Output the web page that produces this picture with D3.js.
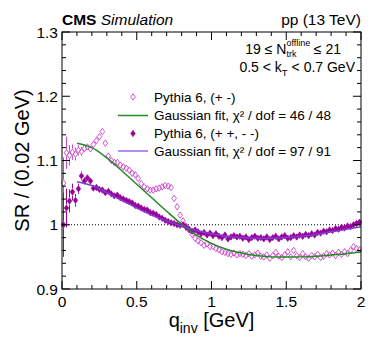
<!DOCTYPE html>
<html><head><meta charset="utf-8">
<script src="https://cdn.jsdelivr.net/npm/d3@7"></script>
<style>body{margin:0;background:#fff}svg{display:block;font-family:"Liberation Sans",Arial,Helvetica,sans-serif}</style>
</head><body><svg id="c" width="374" height="357"></svg>
<script>
// ---- data ----
const binStart = 0, binWidth = 0.02;
const openVals = [1.065,1.112,1.108,1.113,1.110,1.116,1.114,1.119,1.121,1.118,
1.125,1.131,1.137,1.145,1.127,1.107,1.100,1.097,1.097,1.093,
1.090,1.088,1.085,1.080,1.078,1.072,1.064,1.059,1.056,1.054,
1.054,1.056,1.057,1.059,1.061,1.060,1.058,1.041,1.028,1.015,
1.006,0.998,0.992,0.985,0.979,0.975,0.972,0.968,0.970,0.966,
0.966,0.963,0.961,0.958,0.957,0.955,0.954,0.956,0.953,0.955,
0.954,0.952,0.955,0.951,0.953,0.956,0.951,0.950,0.953,0.948,
0.952,0.957,0.951,0.949,0.953,0.958,0.950,0.960,0.952,0.949,
0.955,0.950,0.948,0.952,0.950,0.954,0.949,0.951,0.955,0.953,
0.956,0.952,0.957,0.954,0.958,0.955,0.960,0.966,0.963,0.961];
const openErr = [0.040,0.025,0.016,0.012,0.010,0.008,0.007,0.006,0.005,0.005,
0.004,0.004,0.004,0.004,0.003,0.003,0.003,0.003,0.003,0.003];
const fillVals = [1.000,1.026,1.037,1.051,1.038,1.056,1.076,1.068,1.073,1.068,
1.057,1.058,1.055,1.054,1.050,1.052,1.048,1.045,1.046,1.042,
1.040,1.038,1.036,1.034,1.030,1.029,1.026,1.024,1.023,1.019,
1.018,1.016,1.012,1.010,1.007,1.005,1.003,1.002,1.000,0.999,
1.000,0.996,0.993,0.990,0.992,0.989,0.986,0.988,0.984,0.987,
0.983,0.986,0.982,0.980,0.984,0.978,0.981,0.983,0.981,0.982,
0.979,0.981,0.977,0.980,0.982,0.979,0.980,0.978,0.981,0.977,
0.980,0.982,0.978,0.981,0.983,0.979,0.980,0.983,0.981,0.984,
0.982,0.985,0.983,0.986,0.984,0.988,0.987,0.990,0.989,0.992,
0.991,0.994,0.993,0.996,0.995,0.998,0.997,1.000,1.002,1.004];
const fillErr = [0.050,0.030,0.018,0.013,0.010,0.008,0.007,0.006,0.005,0.005,
0.004,0.004,0.004,0.004,0.004,0.003,0.003,0.003,0.003,0.003];
const fitQ = [0.1,0.2,0.3,0.4,0.5,0.6,0.7,0.8,0.9,1.0,1.1,1.2,1.3,1.4,1.5,1.6,1.7,1.8,1.9,2.0];
const greenFit = [1.127,1.120,1.104,1.084,1.063,1.042,1.021,1.001,0.984,0.971,0.962,0.956,0.952,0.950,0.950,0.950,0.951,0.953,0.955,0.958];
const purpleFit = [1.067,1.061,1.050,1.038,1.026,1.015,1.006,0.998,0.991,0.986,0.982,0.980,0.979,0.979,0.980,0.982,0.985,0.989,0.993,0.997];
const xMajor = [0,0.5,1,1.5,2];
const xTickLabels = ["0","0.5","1","1.5","2"];
const yMajor = [0.9,1.0,1.1,1.2,1.3];
const yTickLabels = ["0.9","1","1.1","1.2","1.3"];
const legendLabels = ["Pythia 6, (+ -)", "Gaussian fit, \u03c7\u00b2 / dof = 46 / 48", "Pythia 6, (+ +, - -)", "Gaussian fit, \u03c7\u00b2 / dof = 97 / 91"];

// ---- styles ----
const cOpen = "#cc44cc", cFill = "#990099", cGreen = "#228b22", cPurple = "#7b3fd6";

const svg = d3.select("#c");
const L = 62, R = 361, T = 32, B = 289;
const x = d3.scaleLinear([0,2],[L,R]);
const y = d3.scaleLinear([0.9,1.3],[B,T]);

const g = svg.append("g");
g.append("line").attr("x1",L).attr("x2",R).attr("y1",y(1)).attr("y2",y(1))
 .attr("stroke","#000").attr("stroke-width",1).attr("stroke-dasharray","1,2");

const centers = openVals.map((v,i)=>binStart + binWidth*(i+0.5));

function diamond(sel, cx, cy, fill, stroke){
  const w=2.3, h=3.2;
  sel.append("path").attr("d",`M${cx},${cy-h}L${cx+w},${cy}L${cx},${cy+h}L${cx-w},${cy}Z`)
   .attr("fill",fill).attr("stroke",stroke).attr("stroke-width",fill==="none"?0.9:0.6);
}
function drawSeries(vals, errs, color, filled){
  const gs = g.append("g");
  vals.forEach((v,i)=>{
    const q = centers[i];
    const e = i<errs.length ? errs[i] : 0.0025;
    const cx = x(q), cy = y(v);
    if (y(v-e)-y(v+e) > 7) {
      gs.append("line").attr("x1",cx).attr("x2",cx).attr("y1",y(v+e)).attr("y2",cy-3.5).attr("stroke",color).attr("stroke-width",1);
      gs.append("line").attr("x1",cx).attr("x2",cx).attr("y1",cy+3.5).attr("y2",y(v-e)).attr("stroke",color).attr("stroke-width",1);
    }
    diamond(gs, cx, cy, filled?color:"none", color);
  });
}
drawSeries(openVals, openErr, cOpen, false);
drawSeries(fillVals, fillErr, cFill, true);

const line = d3.line().x((d,i)=>x(fitQ[i])).y(d=>y(d)).curve(d3.curveCatmullRom);
g.append("path").datum(greenFit).attr("d",line).attr("fill","none").attr("stroke",cGreen).attr("stroke-width",1.5);
g.append("path").datum(purpleFit).attr("d",line).attr("fill","none").attr("stroke",cPurple).attr("stroke-width",1.5);

// frame & ticks
const ax = svg.append("g").attr("stroke","#000").attr("stroke-width",1);
ax.append("rect").attr("x",L).attr("y",T).attr("width",R-L).attr("height",B-T).attr("fill","none");
d3.range(0,2.0001,0.1).forEach(q=>{
  const major = xMajor.some(m=>Math.abs(m-q)<1e-6);
  const len = major?8:4;
  ax.append("line").attr("x1",x(q)).attr("x2",x(q)).attr("y1",B).attr("y2",B-len);
  ax.append("line").attr("x1",x(q)).attr("x2",x(q)).attr("y1",T).attr("y2",T+len);
});
d3.range(0.9,1.30001,0.02).forEach(v=>{
  const major = yMajor.some(m=>Math.abs(m-v)<1e-6);
  const len = major?8:4;
  ax.append("line").attr("y1",y(v)).attr("y2",y(v)).attr("x1",L).attr("x2",L+len);
  ax.append("line").attr("y1",y(v)).attr("y2",y(v)).attr("x1",R).attr("x2",R-len);
});
const tl = svg.append("g").attr("font-size",15.5).attr("fill","#000");
xMajor.forEach((q,i)=>tl.append("text").attr("x",x(q)).attr("y",307).attr("text-anchor","middle").text(xTickLabels[i]));
yMajor.forEach((v,i)=>tl.append("text").attr("x",58).attr("y",y(v)+5.5).attr("text-anchor","end").text(yTickLabels[i]));

// axis titles
svg.append("text").attr("transform",`translate(29,${(T+B)/2}) rotate(-90)`).attr("text-anchor","middle").attr("font-size",20).text("SR / (0.02 GeV)");
const xt = svg.append("text").attr("x",(L+R)/2).attr("y",327).attr("text-anchor","middle").attr("font-size",20);
xt.append("tspan").text("q");
xt.append("tspan").attr("font-size",14).attr("dy",6).text("inv");
xt.append("tspan").attr("dy",-6).text(" [GeV]");

// header
const h = svg.append("text").attr("x",L).attr("y",25).attr("font-size",15.5);
h.append("tspan").attr("font-weight","bold").text("CMS");
h.append("tspan").attr("font-style","italic").text(" Simulation");
svg.append("text").attr("x",R).attr("y",25).attr("text-anchor","end").attr("font-size",15.5).text("pp (13 TeV)");

// annotations (N_trk^offline built from separate pieces, right-aligned)
const a1end = svg.append("text").attr("x",341).attr("y",54).attr("text-anchor","end").attr("font-size",14).text("\u2264 21");
const endW = a1end.node().getComputedTextLength();
const supX = 341 - endW - 3.5;
const sup = svg.append("text").attr("x",supX).attr("y",46).attr("text-anchor","end").attr("font-size",9).text("offline");
const supW = sup.node().getComputedTextLength();
const scriptStart = supX - supW;
svg.append("text").attr("x",scriptStart).attr("y",56.5).attr("font-size",9).text("trk");
svg.append("text").attr("x",scriptStart).attr("y",54).attr("text-anchor","end").attr("font-size",14).text("19 \u2264 N");
const a2 = svg.append("text").attr("x",355).attr("y",72).attr("text-anchor","end").attr("font-size",14);
a2.append("tspan").text("0.5 < k");
a2.append("tspan").attr("font-size",9.5).attr("dy",3.5).text("T");
a2.append("tspan").attr("dy",-3.5).text(" < 0.7 GeV");

// legend
const lg = svg.append("g").attr("font-size",13.5);
const rows = [97,115.5,133.5,151];
legendLabels.forEach((t,i)=>lg.append("text").attr("x",154).attr("y",rows[i]+4.8).text(t));
diamond(lg,133,rows[0],"none",cOpen);
lg.append("line").attr("x1",118).attr("x2",148).attr("y1",rows[1]).attr("y2",rows[1]).attr("stroke",cGreen).attr("stroke-width",1.5);
diamond(lg,133,rows[2],cFill,cFill);
lg.append("line").attr("x1",118).attr("x2",148).attr("y1",rows[3]).attr("y2",rows[3]).attr("stroke","#9966ee").attr("stroke-width",1.5);
</script></body></html>
